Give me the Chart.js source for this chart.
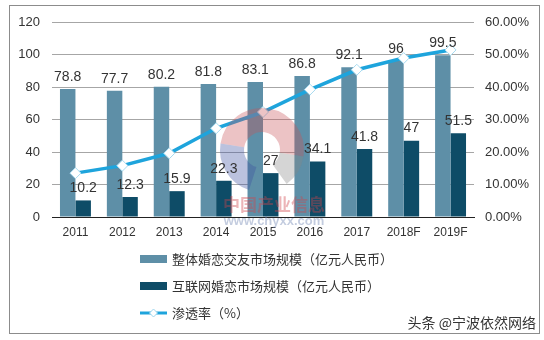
<!DOCTYPE html>
<html lang="zh">
<head>
  <meta charset="UTF-8">
  <title>婚恋市场规模</title>
  <script src="https://cdn.jsdelivr.net/npm/chart.js"></script>
  <style>
    html, body { margin: 0; padding: 0; background: #fff; }
    #wrap { width: 544px; height: 340px; position: relative; }
  </style>
</head>
<body>
<div id="wrap"><canvas id="chart" width="544" height="340"></canvas></div>
<script>
  const years = ['2011', '2012', '2013', '2014', '2015', '2016', '2017', '2018F', '2019F'];
  const totalMarket = [78.8, 77.7, 80.2, 81.8, 83.1, 86.8, 92.1, 96, 99.5];
  const onlineMarket = [10.2, 12.3, 15.9, 22.3, 27, 34.1, 41.8, 47, 51.5];
  const penetration = [13.5, 15.8, 19.6, 27.3, 32.3, 39.2, 45.3, 48.9, 51.4];
  const seriesNames = ['整体婚恋交友市场规模（亿元人民币）', '互联网婚恋市场规模（亿元人民币）', '渗透率（%）'];

  const FONT = '"Liberation Sans", Arial, sans-serif';
  const CJK = '"Noto Sans CJK SC", sans-serif';

  // frame, watermark, value labels, legend and credit line
  const extras = {
    id: 'extras',
    beforeDraw(chart) {
      const c = chart.ctx;
      c.save();
      c.fillStyle = '#fff';
      c.fillRect(0, 0, chart.width, chart.height);
      c.strokeStyle = '#8c8c8c';
      c.lineWidth = 1;
      c.strokeRect(9.5, 5.5, 530, 328);
      c.restore();
    },
    afterDatasetsDraw(chart) {
      const c = chart.ctx;
      c.save();
      // faint logo
      c.globalAlpha = 0.35;
      c.lineWidth = 24;
      c.strokeStyle = '#c9535a';
      c.beginPath(); c.arc(262, 150, 30, -Math.PI * 0.95, Math.PI * 0.05); c.stroke();
      c.strokeStyle = '#3b4fa0';
      c.beginPath(); c.arc(262, 150, 30, Math.PI * 0.6, Math.PI * 1.05); c.stroke();
      c.strokeStyle = '#888';
      c.beginPath(); c.arc(262, 150, 30, Math.PI * 0.05, Math.PI * 0.3); c.stroke();
      c.globalAlpha = 0.4;
      c.fillStyle = '#d0444a';
      c.font = 'bold 17px ' + CJK;
      c.textAlign = 'center';
      c.textBaseline = 'middle';
      c.fillText('中国产业信息', 274, 205);
      c.fillStyle = '#6a7fb0';
      c.font = 'bold 13px ' + FONT;
      c.fillText('www.chyxx.com', 274, 221);
      c.restore();

      // value labels above the bars
      c.save();
      c.font = '14px ' + FONT;
      c.fillStyle = '#333';
      c.textAlign = 'center';
      c.textBaseline = 'bottom';
      [0, 1].forEach(i => {
        chart.getDatasetMeta(i).data.forEach((bar, j) => {
          c.fillText(String(chart.data.datasets[i].data[j]), bar.x, bar.y - 5);
        });
      });
      c.restore();
    },
    afterDraw(chart) {
      const c = chart.ctx;
      const ds = chart.data.datasets;
      c.save();
      c.font = '13px ' + CJK;
      c.textBaseline = 'middle';
      c.fillStyle = '#333';
      const rows = [259, 286, 313];
      rows.forEach((y, i) => {
        if (i < 2) {
          c.fillStyle = ds[i].backgroundColor;
          c.fillRect(140, y - 4, 27, 8);
        } else {
          c.strokeStyle = ds[2].borderColor;
          c.lineWidth = 3;
          c.beginPath(); c.moveTo(140, y); c.lineTo(167, y); c.stroke();
          c.fillStyle = '#fff';
          c.strokeStyle = '#9fd6ee';
          c.lineWidth = 1;
          c.beginPath();
          c.moveTo(153.5, y - 4); c.lineTo(157.5, y); c.lineTo(153.5, y + 4); c.lineTo(149.5, y);
          c.closePath(); c.fill(); c.stroke();
        }
        c.fillStyle = '#333';
        c.fillText(seriesNames[i], 172, y);
      });
      c.textAlign = 'right';
      c.font = '14px ' + CJK;
      c.fillStyle = '#333';
      c.fillText('头条 @宁波依然网络', 536, 323);
      c.restore();
    }
  };

  const ctx = document.getElementById('chart').getContext('2d');
  const chart = new Chart(ctx, {
    data: {
      labels: years,
      datasets: [{
        type: 'bar',
        label: seriesNames[0],
        data: totalMarket,
        backgroundColor: '#5e8fa7',
        yAxisID: 'y',
        order: 2
      }, {
        type: 'bar',
        label: seriesNames[1],
        data: onlineMarket,
        backgroundColor: '#0e4c67',
        yAxisID: 'y',
        order: 2
      }, {
        type: 'line',
        label: seriesNames[2],
        data: penetration,
        borderColor: '#1ea4dc',
        borderWidth: 3.5,
        pointStyle: 'rectRot',
        pointRadius: 5.5,
        pointBackgroundColor: '#fff',
        pointBorderColor: '#a8dbf0',
        pointBorderWidth: 1,
        yAxisID: 'y1',
        order: 0
      }]
    },
    options: {
      responsive: false,
      animation: false,
      layout: { padding: { top: 22, right: 0, bottom: 93, left: 0 } },
      datasets: { bar: { categoryPercentage: 0.66, barPercentage: 1 } },
      plugins: { legend: { display: false }, tooltip: { enabled: false } },
      scales: {
        x: {
          grid: { display: false, drawTicks: false },
          border: { color: '#222', width: 1 },
          ticks: { color: '#333', font: { family: FONT, size: 12 }, padding: 8, maxRotation: 0 },
          afterFit(s) { s.height = 30; }
        },
        y: {
          position: 'left',
          min: 0, max: 120,
          grid: { color: '#a6a6a6', drawTicks: false },
          border: { display: false },
          ticks: { stepSize: 20, color: '#333', font: { family: FONT, size: 13 }, padding: 12 },
          afterFit(s) { s.width = 52; }
        },
        y1: {
          position: 'right',
          min: 0, max: 60,
          grid: { display: false, drawTicks: false },
          border: { display: false },
          ticks: {
            stepSize: 10, color: '#333', font: { family: FONT, size: 13 }, padding: 11,
            callback: v => v.toFixed(2) + '%'
          },
          afterFit(s) { s.width = 70; }
        }
      }
    },
    plugins: [extras]
  });
</script>
</body>
</html>
